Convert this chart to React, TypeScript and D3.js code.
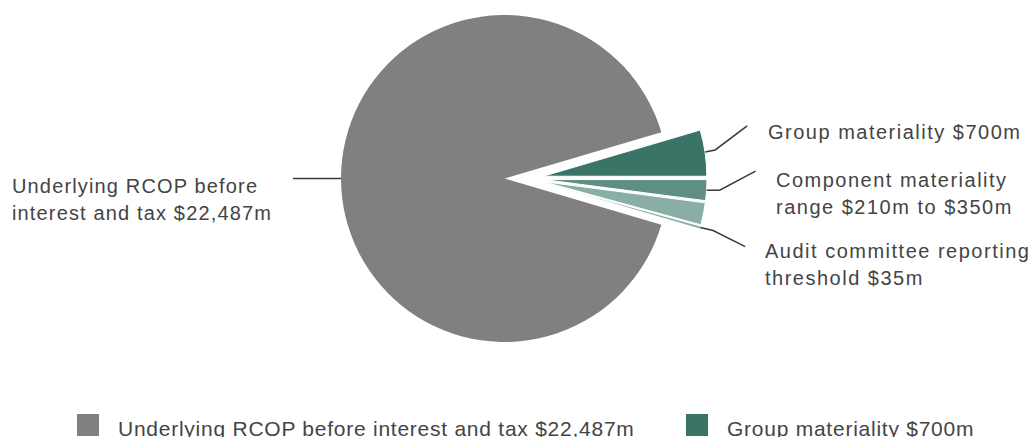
import React, { useEffect } from "react";
import * as d3 from "d3";

// Slice names (same order as shares)
const seriesNames = [
  "Underlying RCOP before interest and tax $22,487m",
  "Group materiality $700m",
  "Component materiality range $210m to $350m",
  "Component materiality range (lower)",
  "Audit committee reporting threshold $35m",
];
// Share of the circle each slice takes in the picture (percent)
const shares = [90.89, 4.56, 2.06, 2.19, 0.3];
const colors = ["#808080", "#3a7467", "#5f8f83", "#8aaea5", "#8aaea5"];

// Callout labels (lines)
const calloutLines: string[][] = [
  ["Underlying RCOP before", "interest and tax $22,487m"],
  ["Group materiality $700m"],
  ["Component materiality", "range $210m to $350m"],
  [],
  ["Audit committee reporting", "threshold $35m"],
];
// Legend entries visible inside the picture
const legendNames = seriesNames.slice(0, 2);

const W = 1034;
const H = 437;
const cx = 504.5;
const cy = 178.5;
const R = 163.5;
const groupShift = 23; // the small slices are pulled out to the right as a group
const explode = 16; // and then each is pulled out along its own mid-angle
const startDeg = 106.4;

const FONT = "'Liberation Sans', Arial, sans-serif";
const TEXT = "#444444";

export default function App() {
  useEffect(() => {
    document.body.style.margin = "0";
    document.body.style.overflow = "hidden";
  }, []);

  const pie = d3
    .pie<number>()
    .sort(null)
    .value((d) => d)
    .startAngle((startDeg * Math.PI) / 180)
    .endAngle((startDeg * Math.PI) / 180 + 2 * Math.PI);
  const arcs = pie(shares);
  const arc = d3.arc<d3.PieArcDatum<number>>().innerRadius(0).outerRadius(R);

  const offsetOf = (i: number) => {
    if (i === 0) return [0, 0];
    const a = arcs[i];
    const mid = (a.startAngle + a.endAngle) / 2;
    return [groupShift + explode * Math.sin(mid), -explode * Math.cos(mid)];
  };

  const anchor = (i: number, r: number) => {
    const a = arcs[i];
    const mid = (a.startAngle + a.endAngle) / 2;
    const [ox, oy] = offsetOf(i);
    return [cx + ox + r * Math.sin(mid), cy + oy - r * Math.cos(mid)];
  };

  const leaders: { pts: [number, number][] }[] = [];
  {
    const p0 = anchor(0, R);
    leaders.push({ pts: [[p0[0], p0[1]], [p0[0] - 48, p0[1]]] });
    const p1 = anchor(1, R);
    leaders.push({ pts: [[p1[0], p1[1] - 1], [p1[0] + 10, p1[1] - 3], [p1[0] + 42, p1[1] - 27]] });
    const p2 = anchor(2, R);
    leaders.push({ pts: [[p2[0], p2[1]], [p2[0] + 13, p2[1]], [p2[0] + 49, p2[1] - 19]] });
    const p4 = anchor(4, R);
    leaders.push({ pts: [[p4[0], p4[1]], [p4[0] + 13, p4[1] + 3], [p4[0] + 45, p4[1] + 19]] });
  }
  const line = d3.line<[number, number]>().curve(d3.curveLinear);

  const labelPos: { x: number; y: number; i: number; ls: number }[] = [
    { i: 0, x: 12, y: 192.5, ls: 1.15 },
    { i: 1, x: 768, y: 139, ls: 1.5 },
    { i: 2, x: 776, y: 187, ls: 1.5 },
    { i: 4, x: 765, y: 258, ls: 1.5 },
  ];
  const lineH = 27;

  const legendX = [77, 686];
  const legendRowY = 414;
  const legendRowH = 40;

  return (
    <svg
      width={W}
      height={H}
      style={{ position: "absolute", left: 0, top: 0, background: "#fff" }}
      fontFamily={FONT}
    >
      <g>
        {arcs.map((a, i) => {
          const [ox, oy] = offsetOf(i);
          return (
            <path
              key={i}
              d={arc(a) || ""}
              transform={`translate(${cx + ox},${cy + oy})`}
              fill={colors[i]}
              stroke="#fff"
              strokeWidth={i === 0 ? 0 : 1}
              strokeLinejoin="round"
            />
          );
        })}
      </g>
      <g fill="none" stroke="#3a3a3a" strokeWidth={1.5}>
        {leaders.map((l, k) => (
          <path key={k} d={line(l.pts) || ""} />
        ))}
      </g>
      <g fill={TEXT} fontSize={20}>
        {labelPos.map((lp) =>
          calloutLines[lp.i].map((t, j) => (
            <text key={`${lp.i}-${j}`} x={lp.x} y={lp.y + j * lineH} letterSpacing={lp.ls}>
              {t}
            </text>
          ))
        )}
      </g>
      <g>
        {legendNames.map((n, i) => {
          const col = i % 2;
          const row = Math.floor(i / 2);
          const x = legendX[col];
          const y = legendRowY + row * legendRowH;
          return (
            <g key={i}>
              <rect x={x} y={y} width={22} height={22} fill={colors[i]} />
              <text x={x + 41} y={y + 22} fill={TEXT} fontSize={21} letterSpacing={0.75}>
                {n}
              </text>
            </g>
          );
        })}
      </g>
    </svg>
  );
}
